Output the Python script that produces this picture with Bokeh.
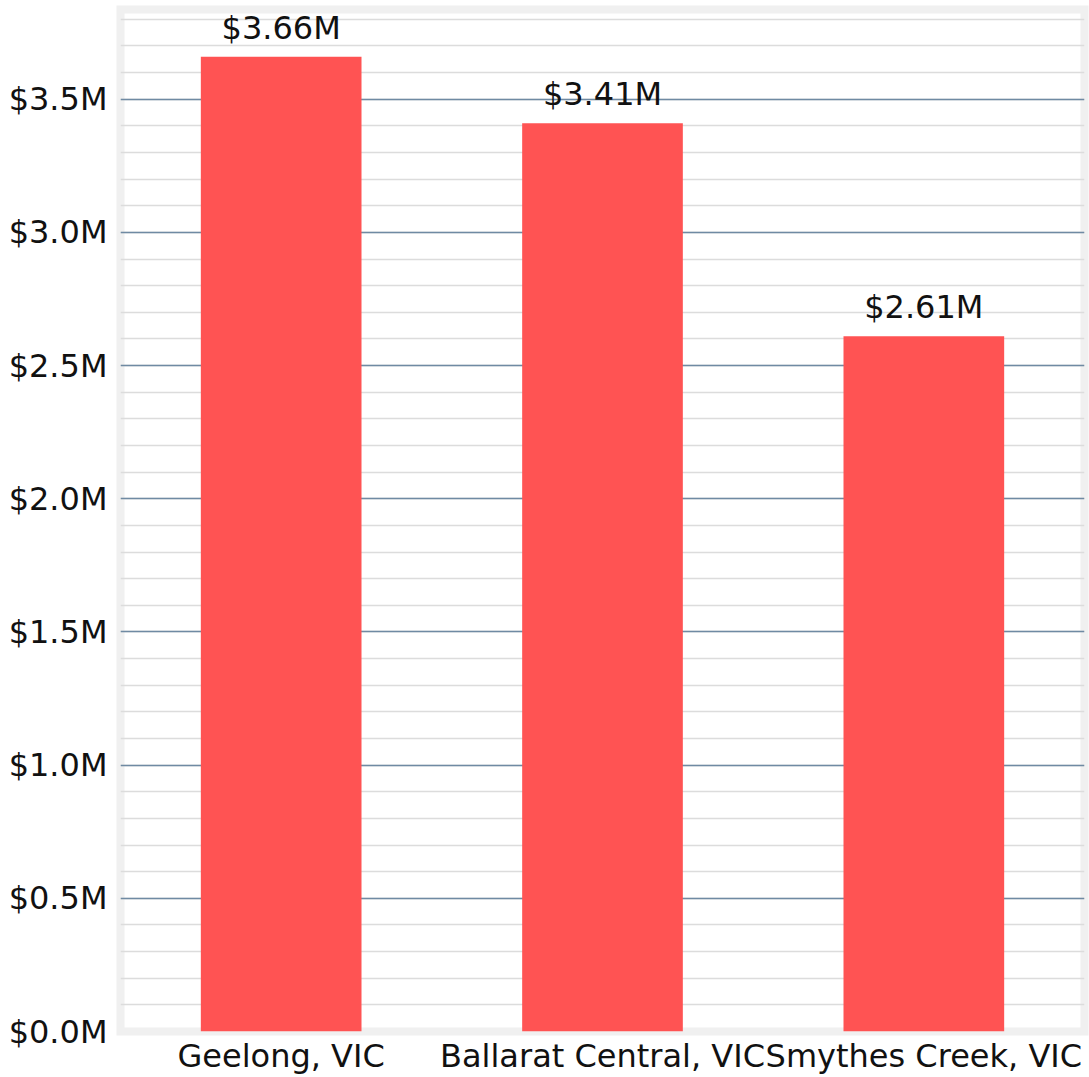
from bokeh.plotting import figure
from bokeh.models import ColumnDataSource, FixedTicker, Range1d
from bokeh.embed import file_html
from bokeh.resources import INLINE
from bokeh.core.properties import value

categories = ["Geelong, VIC", "Ballarat Central, VIC", "Smythes Creek, VIC"]
prices_m = [3.66, 3.41, 2.61]
price_labels = ["$3.66M", "$3.41M", "$2.61M"]
y_ticks = [0.0, 0.5, 1.0, 1.5, 2.0, 2.5, 3.0, 3.5]
y_tick_labels = ["$0.0M", "$0.5M", "$1.0M", "$1.5M", "$2.0M", "$2.5M", "$3.0M", "$3.5M"]
minor_ticks = [round(i * 0.1, 1) for i in range(0, 39)]

FONT = "DejaVu Sans"

src = ColumnDataSource(dict(cat=categories, val=prices_m, lab=price_labels))

p = figure(x_range=categories, y_range=Range1d(0, 3.837), width=1089, height=1077,
           output_backend="svg", toolbar_location=None,
           min_border_left=120, min_border_right=5, min_border_top=9, min_border_bottom=44)

p.vbar(x="cat", top="val", width=0.5, source=src, fill_color="#ff5353", line_color=None)
p.text(x="cat", y="val", text="lab", source=src, text_align="center",
       text_baseline="alphabetic", y_offset=-29, text_font=value(FONT),
       text_font_size="32px", text_color="#111111")

p.outline_line_color = "#f0f0f0"
p.outline_line_width = 8
p.outline_line_join = "miter"
p.background_fill_color = "white"
p.border_fill_color = "white"

p.xgrid.grid_line_color = None
p.ygrid.ticker = FixedTicker(ticks=y_ticks, minor_ticks=minor_ticks)
p.ygrid.grid_line_color = "#6f8aa3"
p.ygrid.grid_line_width = 1.5
p.ygrid.minor_grid_line_color = "#dcdcdc"
p.ygrid.minor_grid_line_width = 1.5

p.yaxis.ticker = FixedTicker(ticks=y_ticks)
p.yaxis.major_label_overrides = {t: l for t, l in zip(y_ticks, y_tick_labels)}
for ax in (p.xaxis[0], p.yaxis[0]):
    ax.axis_line_color = None
    ax.major_tick_line_color = None
    ax.minor_tick_line_color = None
    ax.major_tick_out = 0
    ax.major_tick_in = 0
    ax.minor_tick_out = 0
    ax.minor_tick_in = 0
    ax.major_label_text_font = FONT
    ax.major_label_text_font_size = "32px"
    ax.major_label_text_color = "#111111"
p.yaxis.major_label_standoff = 13
p.xaxis.major_label_standoff = 5
p.x_range.range_padding = 0

open("out.html", "w").write(file_html(p, INLINE))
